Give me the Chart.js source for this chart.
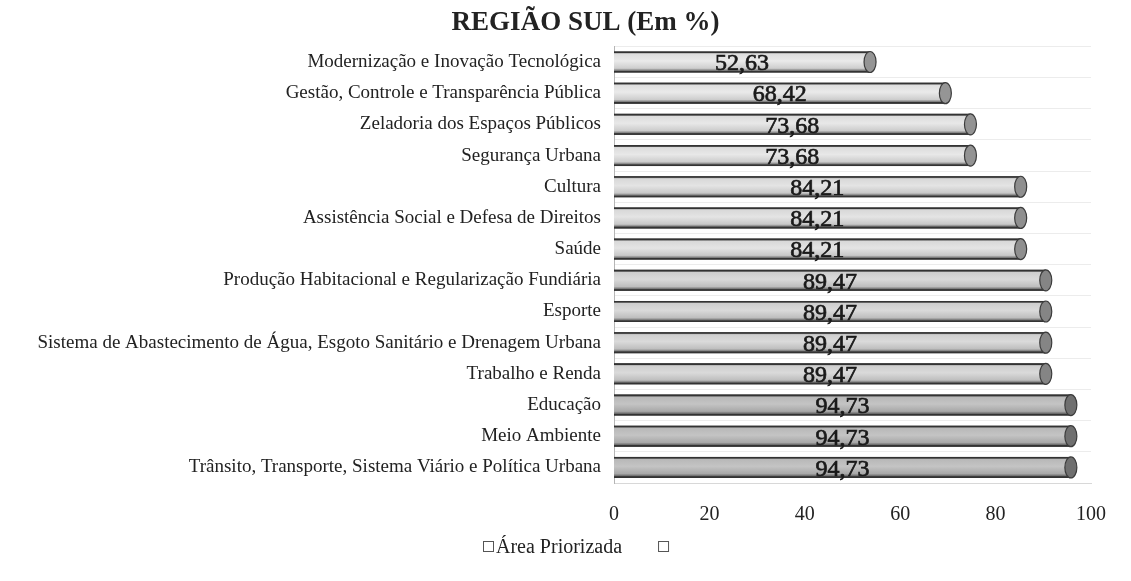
<!DOCTYPE html>
<html>
<head>
<meta charset="utf-8">
<title>Região Sul</title>
<script src="https://cdn.jsdelivr.net/npm/chart.js@4.4.0/dist/chart.umd.min.js"></script>
<style>
  html, body { margin: 0; padding: 0; background: #fff; }
  #wrap { width: 1131px; height: 581px; position: relative; }
</style>
</head>
<body>
<div id="wrap"><canvas id="chart-sul"></canvas></div>
<script>
var areas = [
  'Modernização e Inovação Tecnológica',
  'Gestão, Controle e Transparência Pública',
  'Zeladoria dos Espaços Públicos',
  'Segurança Urbana',
  'Cultura',
  'Assistência Social e Defesa de Direitos',
  'Saúde',
  'Produção Habitacional e Regularização Fundiária',
  'Esporte',
  'Sistema de Abastecimento de Água, Esgoto Sanitário e Drenagem Urbana',
  'Trabalho e Renda',
  'Educação',
  'Meio Ambiente',
  'Trânsito, Transporte, Sistema Viário e Política Urbana'
];
var percentuais = [52.63, 68.42, 73.68, 73.68, 84.21, 84.21, 84.21, 89.47, 89.47, 89.47, 89.47, 94.73, 94.73, 94.73];
var xTicks = [0, 20, 40, 60, 80, 100];
var legendLabels = ['Área Priorizada', ''];

// grey level of each bar (the scan makes the lower bars darker)
var barTones = [214, 214, 212, 212, 208, 208, 208, 198, 198, 198, 198, 176, 176, 176];

var serif = '"Liberation Serif", "Times New Roman", serif';

function grey(v) {
  v = Math.max(0, Math.min(255, Math.round(v)));
  return 'rgb(' + v + ',' + v + ',' + v + ')';
}

function fmt(v) {
  return v.toFixed(2).replace('.', ',');
}

// draws the bars as grey cylinders with the value in the middle
var cylinderPlugin = {
  id: 'cylinder',
  afterDatasetsDraw: function (chart) {
    var ctx = chart.ctx;
    var meta = chart.getDatasetMeta(0);
    var depth = 5;
    meta.data.forEach(function (bar, i) {
      var p = bar.getProps(['x', 'y', 'base', 'height'], true);
      var h = p.height, top = p.y - h / 2, x0 = p.base, x1 = p.x + depth;
      var tone = barTones[i];

      ctx.save();
      var g = ctx.createLinearGradient(0, top, 0, top + h);
      g.addColorStop(0, grey(60));
      g.addColorStop(0.12, grey(tone + 8));
      g.addColorStop(0.45, grey(tone + 20));
      g.addColorStop(0.8, grey(tone - 8));
      g.addColorStop(1, grey(50));
      ctx.fillStyle = g;
      ctx.fillRect(x0, top, x1 - x0, h);

      ctx.strokeStyle = '#333';
      ctx.lineWidth = 1.6;
      ctx.beginPath();
      ctx.moveTo(x0, top + 0.8);
      ctx.lineTo(x1, top + 0.8);
      ctx.moveTo(x0, top + h - 0.8);
      ctx.lineTo(x1, top + h - 0.8);
      ctx.stroke();

      // end cap
      ctx.beginPath();
      ctx.ellipse(x1, p.y, 6, h / 2, 0, 0, Math.PI * 2);
      ctx.fillStyle = grey(tone - 65);
      ctx.fill();
      ctx.lineWidth = 1.2;
      ctx.strokeStyle = '#3c3c3c';
      ctx.stroke();

      // value label
      ctx.font = '24px ' + serif;
      ctx.fillStyle = '#1a1a1a';
      ctx.strokeStyle = '#1a1a1a';
      ctx.lineWidth = 0.7;
      ctx.textAlign = 'center';
      ctx.textBaseline = 'middle';
      ctx.fillText(fmt(percentuais[i]), (x0 + x1) / 2, p.y + 2);
      ctx.strokeText(fmt(percentuais[i]), (x0 + x1) / 2, p.y + 2);
      ctx.restore();
    });
  }
};

// the title sits a little right of the canvas centre in the original
var titleShift = {
  id: 'titleShift',
  afterLayout: function (chart) {
    if (chart.titleBlock) {
      chart.titleBlock.left += 25;
      chart.titleBlock.right += 25;
    }
  }
};

// small legend under the axis, as in the original sheet
var legendPlugin = {
  id: 'bottomLegend',
  afterDraw: function (chart) {
    var ctx = chart.ctx;
    var y = 547;
    var x = 483;
    ctx.save();
    ctx.font = '20px ' + serif;
    ctx.textBaseline = 'middle';
    ctx.textAlign = 'left';
    legendLabels.forEach(function (label) {
      ctx.fillStyle = '#fff';
      ctx.strokeStyle = '#555';
      ctx.lineWidth = 1;
      ctx.fillRect(x + 0.5, y - 5.5, 10, 10);
      ctx.strokeRect(x + 0.5, y - 5.5, 10, 10);
      ctx.fillStyle = '#222';
      ctx.fillText(label, x + 13, y + 1);
      x += 13 + ctx.measureText(label).width + 36;
    });
    ctx.restore();
  }
};

var ctx = document.getElementById('chart-sul').getContext('2d');

var regiaoSulChart = new Chart(ctx, {
  type: 'bar',
  data: {
    labels: areas,
    datasets: [
      {
        label: legendLabels[0],
        data: percentuais,
        backgroundColor: 'rgba(0,0,0,0)',
        borderWidth: 0,
        barThickness: 21
      }
    ]
  },
  options: {
    indexAxis: 'y',
    responsive: true,
    maintainAspectRatio: false,
    animation: false,
    layout: {
      padding: { left: 30, right: 40, top: 0, bottom: 0 }
    },
    plugins: {
      legend: { display: false },
      tooltip: { enabled: false },
      title: {
        display: true,
        text: 'REGIÃO SUL (Em %)',
        color: '#222',
        font: { family: serif, size: 27, weight: 'bold' },
        padding: { top: 7, bottom: 7 }
      }
    },
    scales: {
      x: {
        min: 0,
        max: 100,
        afterBuildTicks: function (scale) {
          scale.ticks = xTicks.map(function (v) { return { value: v }; });
        },
        afterFit: function (scale) {
          scale.height = 98;
        },
        grid: { display: false },
        border: { display: true, color: '#d8d8d8' },
        ticks: {
          color: '#222',
          padding: 12,
          font: { family: serif, size: 20 }
        }
      },
      y: {
        afterFit: function (scale) {
          scale.width = 584;
        },
        grid: { color: '#ececec', drawTicks: false },
        border: { display: true, color: '#b5b5b5' },
        ticks: {
          color: '#222',
          padding: 13,
          font: { family: serif, size: 19 }
        }
      }
    }
  },
  plugins: [cylinderPlugin, titleShift, legendPlugin]
});
</script>
</body>
</html>
